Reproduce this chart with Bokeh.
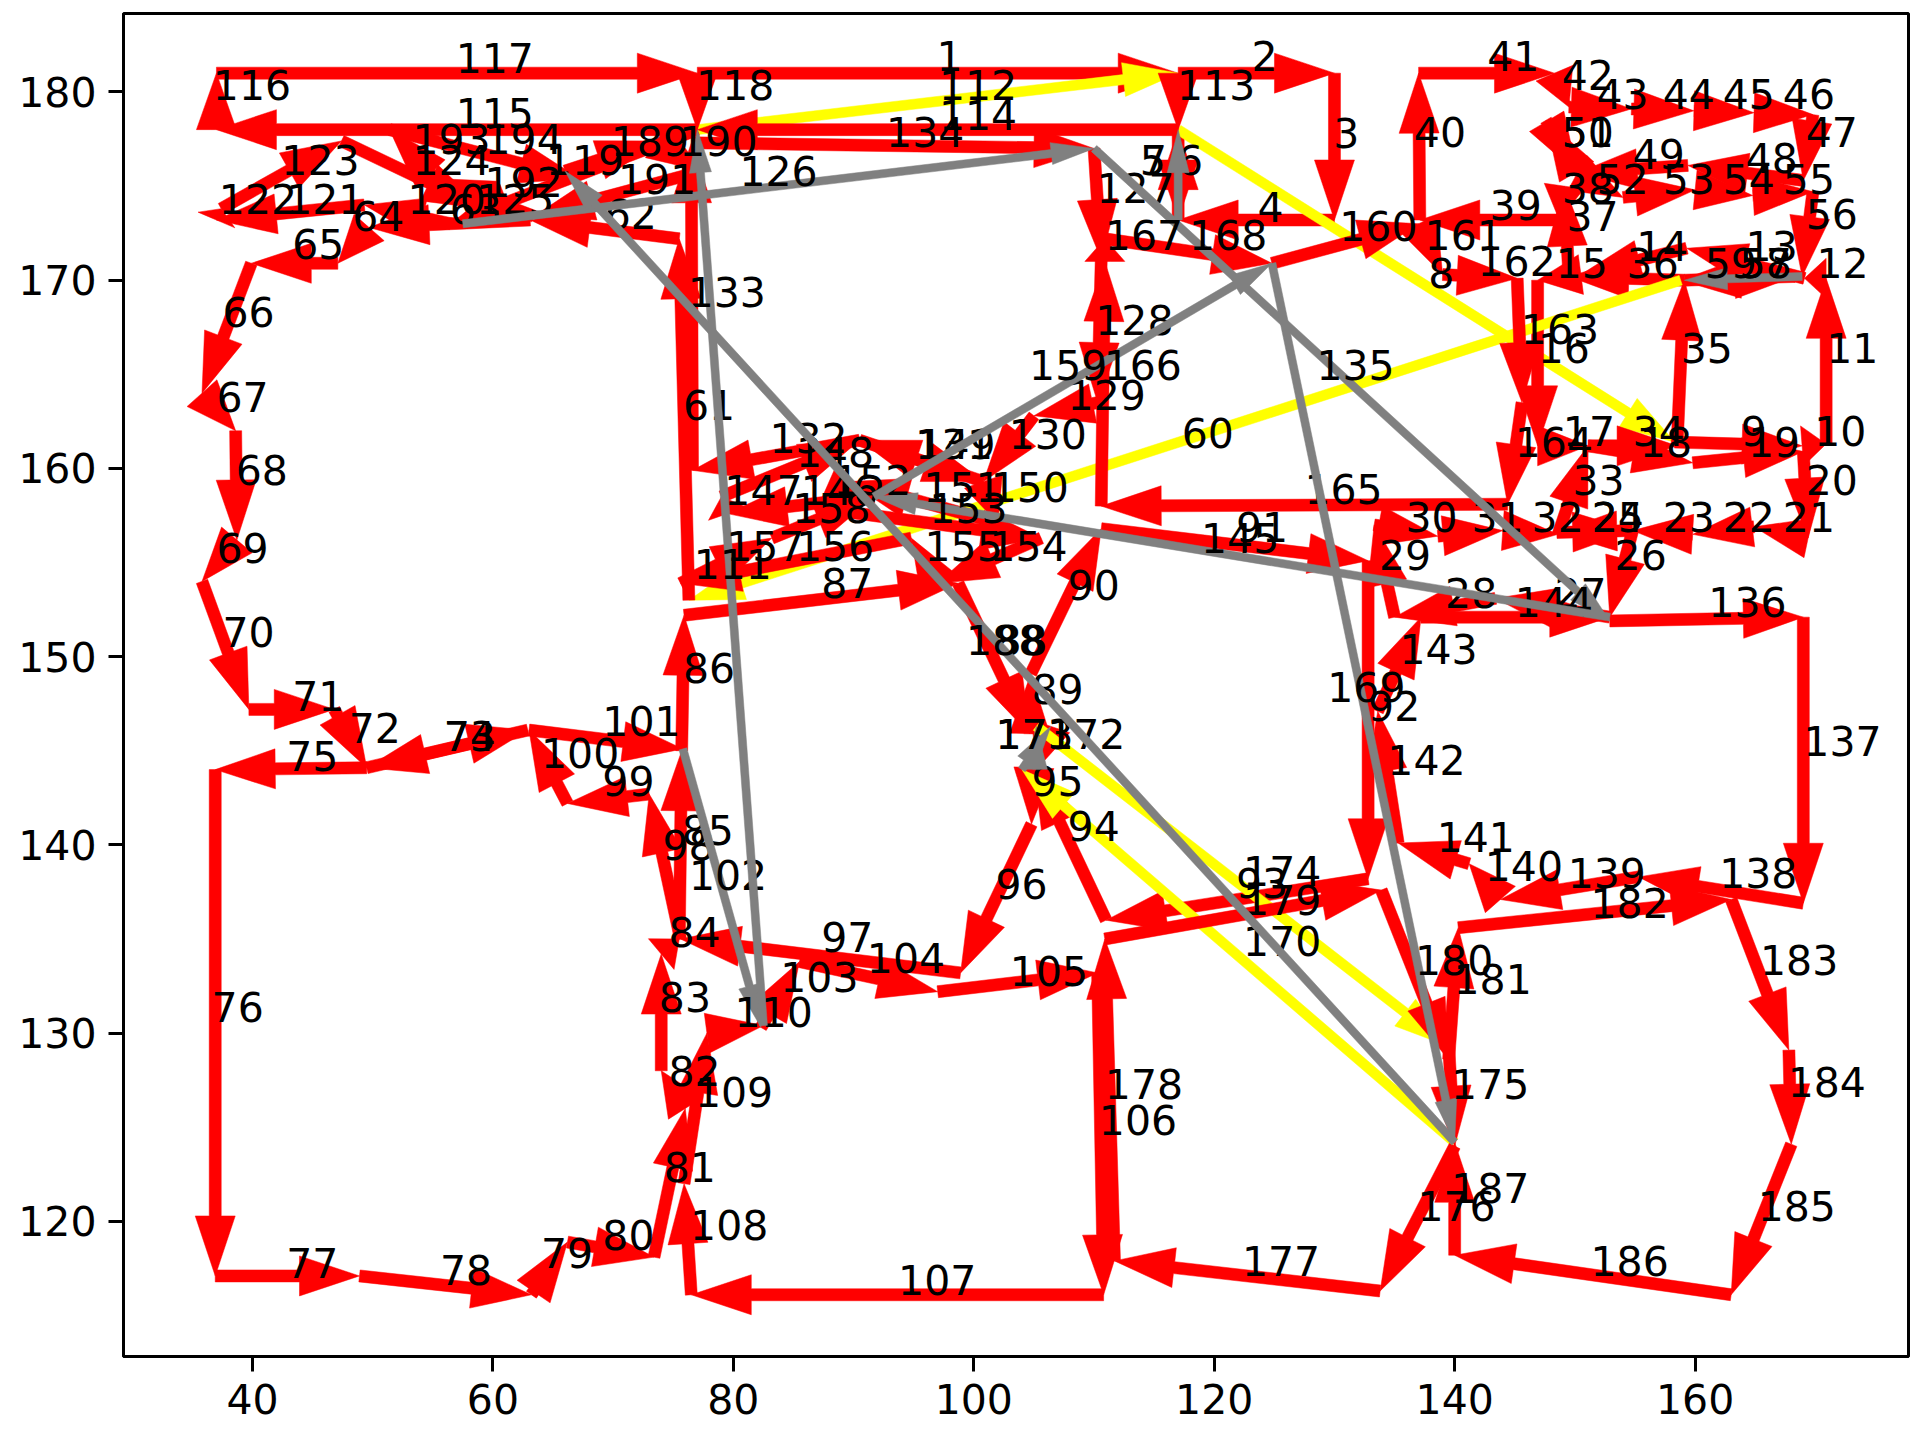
import numpy as np
from bokeh.plotting import figure
from bokeh.models import Range1d, FixedTicker
from bokeh.core.properties import value
from bokeh.embed import file_html
from bokeh.resources import INLINE

# ---- route nodes (step i goes from node i-1 to node i) ----
node_x = [77.0, 117.0, 130.0, 130.0, 117.0, 117.0, 117.0, 117.0, 158.3, 168.9,
          170.9, 170.9, 169.1, 159.3, 150.5, 146.9, 146.9, 151.1, 159.8, 169.0,
          169.4, 164.9, 159.8, 154.8, 148.5, 154.8, 152.9, 143.4, 135.0, 133.3,
          138.6, 144.0, 148.6, 151.1, 158.5, 159.1, 149.5, 149.1, 148.7, 137.1,
          137.0, 148.3, 149.5, 154.7, 159.9, 164.9, 169.8, 169.0, 159.4, 150.2,
          147.6, 150.2, 154.0, 160.0, 164.8, 169.8, 168.9, 159.1, 168.3, 158.8,
          76.3, 75.5, 63.1, 49.7, 47.1, 39.9, 35.8, 38.6, 38.7, 35.8,
          39.7, 46.8, 49.5, 62.9, 49.5, 36.9, 36.9, 48.9, 63.2, 66.2,
          73.4, 76.0, 74.0, 74.0, 75.5, 75.7, 75.9, 98.7, 104.65, 104.75,
          110.6, 132.8, 132.8, 111.0, 105.0, 104.8, 98.9, 75.6, 73.0, 66.2,
          63.0, 75.8, 82.3, 85.5, 97.0, 110.3, 110.8, 76.5, 75.9, 77.8,
          82.5, 77.0, 117.0, 117.0, 77.0, 37.0, 37.0, 77.0, 77.0, 56.5,
          49.3, 37.0, 37.4, 47.4, 59.2, 57.5, 110.0, 110.6, 110.3, 105.0,
          100.8, 90.5, 76.6, 76.5, 110.0, 152.9, 169.0, 169.0, 155.3, 143.8,
          141.2, 135.3, 133.6, 137.2, 152.9, 91.7, 79.5, 79.0, 90.5, 100.8,
          102.0, 89.6, 87.0, 105.6, 97.0, 94.8, 75.6, 83.2, 91.7, 124.8,
          137.0, 139.0, 145.2, 145.6, 144.4, 110.6, 110.9, 110.9, 124.8, 140.0,
          104.0, 106.4, 105.2, 105.2, 139.5, 140.0, 133.8, 111.7, 110.9, 133.9,
          139.5, 140.3, 163.0, 167.8, 168.0, 163.0, 140.0, 140.0, 66.0, 73.6,
          77.4, 63.4, 55.2, 51.4, 67.2]
node_y = [181.0, 181.0, 181.0, 173.2, 173.2, 178.0, 173.2, 178.0, 161.4, 161.2,
          161.3, 170.1, 170.1, 171.7, 170.3, 170.0, 161.2, 161.2, 160.3, 160.9,
          156.3, 156.9, 156.5, 156.7, 156.6, 156.7, 152.1, 153.1, 152.1, 157.0,
          156.4, 156.7, 156.5, 161.2, 161.2, 170.0, 170.2, 175.0, 173.2, 173.2,
          181.0, 181.0, 179.2, 179.1, 179.0, 178.9, 178.8, 175.3, 176.1, 175.7,
          178.5, 175.7, 174.4, 174.8, 174.5, 174.7, 170.2, 170.0, 170.2, 170.0,
          153.0, 172.2, 173.2, 172.8, 170.9, 170.9, 164.0, 162.0, 156.2, 154.0,
          147.2, 147.2, 144.1, 146.1, 144.1, 144.0, 117.1, 117.1, 116.1, 118.9,
          118.1, 126.0, 128.0, 134.2, 135.0, 145.0, 152.2, 153.9, 145.9, 149.1,
          156.8, 155.1, 138.2, 136.0, 144.1, 141.1, 133.2, 135.0, 142.7, 142.2,
          146.1, 145.1, 130.3, 133.8, 132.2, 133.2, 116.1, 116.1, 122.0, 130.0,
          130.4, 178.0, 181.0, 178.0, 178.0, 178.0, 181.0, 181.0, 178.0, 173.0,
          174.0, 173.2, 173.8, 177.4, 173.8, 173.0, 177.0, 171.1, 163.5, 162.8,
          159.3, 161.5, 159.9, 177.3, 177.0, 151.9, 152.1, 136.9, 138.3, 137.1,
          139.0, 140.1, 147.1, 152.1, 152.1, 158.5, 157.6, 158.5, 161.5, 159.3,
          157.1, 159.3, 157.9, 156.3, 153.9, 156.3, 153.9, 156.3, 158.5, 170.9,
          173.0, 170.3, 170.1, 163.5, 158.1, 158.0, 171.0, 172.2, 170.9, 124.2,
          144.0, 146.3, 144.0, 146.3, 129.3, 124.0, 116.3, 117.9, 135.0, 137.6,
          128.6, 135.6, 137.1, 129.1, 124.1, 116.1, 118.2, 124.2, 175.8, 177.4,
          175.8, 173.4, 175.4, 178.0, 175.4]

yellow_steps = [8, 60, 112, 170, 174]
grey_steps = [7, 57, 102, 111, 126, 135, 145, 159, 169, 171, 173, 188]

# ---- step labels (anchor = left / baseline) ----
label_x = [96.9, 123.1, 129.9, 123.6, 113.8, 116.9, 113.9, 137.8, 163.8, 169.9,
           170.9, 170.1, 164.2, 155.1, 148.4, 146.9, 149.0, 155.4, 164.4, 169.2,
           167.3, 162.3, 157.3, 151.4, 151.4, 153.3, 148.3, 139.2, 133.7, 135.9,
           141.4, 146.4, 149.8, 154.8, 158.8, 154.3, 149.3, 148.9, 142.9, 136.6,
           142.7, 148.9, 151.8, 157.3, 162.3, 167.3, 169.2, 164.2, 154.8, 148.9,
           148.9, 151.8, 157.3, 162.3, 167.3, 169.2, 163.7, 163.7, 160.8, 117.3,
           75.8, 69.3, 56.4, 48.3, 43.3, 37.5, 37.0, 38.6, 37.0, 37.5,
           43.3, 48.0, 55.9, 55.9, 42.8, 36.6, 42.8, 55.6, 64.0, 69.1,
           74.2, 74.6, 73.8, 74.6, 75.7, 75.8, 87.3, 101.8, 104.8, 107.8,
           121.8, 132.8, 121.8, 107.8, 104.8, 101.8, 87.3, 74.1, 69.1, 64.0,
           69.1, 76.3, 83.9, 91.1, 103.0, 110.4, 93.7, 76.4, 76.8, 80.1,
           76.7, 97.1, 116.9, 97.1, 56.9, 36.7, 56.9, 76.9, 64.4, 52.9,
           42.8, 37.2, 42.4, 53.3, 58.6, 80.5, 110.2, 110.1, 107.8, 102.9,
           95.1, 83.0, 76.2, 92.7, 128.5, 161.1, 169.0, 162.0, 149.4, 142.5,
           138.5, 134.4, 135.4, 145.0, 118.9, 85.6, 79.25, 85.2, 95.3, 101.4,
           95.8, 88.3, 96.3, 101.3, 95.9, 85.2, 79.4, 84.9, 104.6, 130.4,
           137.5, 141.9, 145.5, 145.0, 127.5, 110.8, 110.9, 117.9, 129.4, 122.4,
           101.8, 106.1, 101.8, 122.4, 139.7, 136.9, 122.3, 110.9, 122.4, 136.7,
           139.9, 151.3, 165.4, 167.7, 165.2, 151.3, 139.7, 99.35, 69.8, 75.5,
           70.4, 59.3, 53.3, 59.3]
label_y = [181.1, 181.1, 177.0, 173.1, 175.6, 175.6, 175.6, 169.6, 161.2, 161.2,
           165.6, 170.1, 171.0, 171.0, 170.1, 165.6, 161.2, 160.6, 160.6, 158.6,
           156.6, 156.6, 156.6, 156.6, 156.6, 154.6, 152.6, 152.6, 154.6, 156.6,
           156.6, 156.6, 158.6, 161.2, 165.6, 170.1, 172.6, 174.1, 173.2, 177.1,
           181.1, 180.1, 179.1, 179.1, 179.1, 179.1, 177.1, 175.7, 175.9, 177.1,
           177.1, 174.6, 174.6, 174.6, 174.6, 172.7, 170.1, 170.1, 170.1, 161.1,
           162.6, 172.7, 173.0, 172.6, 171.15, 167.5, 163.0, 159.1, 155.0, 150.5,
           147.1, 145.4, 145.0, 145.0, 143.9, 130.6, 117.0, 116.6, 117.5, 118.5,
           122.1, 127.2, 131.1, 134.6, 140.0, 148.6, 153.1, 150.1, 147.5, 153.0,
           156.1, 146.6, 137.2, 140.2, 142.6, 137.1, 134.3, 139.2, 142.6, 144.1,
           145.8, 137.6, 132.2, 133.2, 132.5, 124.6, 116.1, 119.0, 126.1, 130.3,
           154.1, 179.6, 179.6, 178.0, 178.1, 179.6, 181.0, 179.6, 175.6, 173.5,
           173.5, 173.5, 175.6, 175.6, 173.5, 175.0, 174.1, 167.1, 163.1, 161.05,
           160.5, 160.8, 168.6, 177.1, 164.7, 152.1, 144.7, 137.7, 137.7, 138.1,
           139.6, 143.7, 149.6, 152.1, 155.5, 158.05, 158.05, 160.1, 160.5, 158.2,
           158.2, 158.6, 157.1, 155.1, 155.1, 155.1, 155.1, 157.1, 164.7, 172.1,
           171.6, 170.2, 166.6, 160.6, 158.1, 164.7, 171.6, 171.6, 147.6, 134.1,
           145.1, 145.1, 145.1, 137.8, 126.5, 120.0, 117.1, 126.5, 136.3, 133.1,
           132.1, 136.1, 133.1, 126.6, 120.0, 117.1, 121.0, 150.1, 176.6, 176.6,
           174.6, 174.4, 176.7, 176.7]

x_ticks = [40, 60, 80, 100, 120, 140, 160]
y_ticks = [120, 130, 140, 150, 160, 170, 180]

# ---- frame / scales ----
X0, X1 = 29.27, 177.75
Y0, Y1 = 112.82, 184.17
FW, FH = 1785, 1343
kx = FW / (X1 - X0)
ky = FH / (Y1 - Y0)

# colour, shaft width, head width, head length (screen pixels)
STYLE = {
    "red": ("#ff0000", 12.0, 40.0, 60.0),
    "yellow": ("#ffff00", 10.0, 34.0, 55.0),
    "grey": ("#808080", 8.0, 22.0, 43.0),
}


def arrow_polygon(x0, y0, x1, y1, w, hw, hl):
    u = (x1 - x0) * kx
    v = (y1 - y0) * ky
    L = float(np.hypot(u, v))
    if L < 1e-6:
        return None
    dx, dy = u / L, v / L
    nx, ny = -dy, dx
    h = min(hl, L)
    bx, by = u - dx * h, v - dy * h
    pts = [(nx * w / 2, ny * w / 2),
           (bx + nx * w / 2, by + ny * w / 2),
           (bx + nx * hw / 2, by + ny * hw / 2),
           (u, v),
           (bx - nx * hw / 2, by - ny * hw / 2),
           (bx - nx * w / 2, by - ny * w / 2),
           (-nx * w / 2, -ny * w / 2)]
    return [x0 + a / kx for a, b in pts], [y0 + b / ky for a, b in pts]


p = figure(frame_width=FW, frame_height=FH,
           x_range=Range1d(X0, X1), y_range=Range1d(Y0, Y1),
           output_backend="svg", toolbar_location=None,
           min_border_left=123, min_border_right=12,
           min_border_top=13, min_border_bottom=84)
p.background_fill_color = "white"
p.border_fill_color = "white"
p.xgrid.visible = False
p.ygrid.visible = False
p.outline_line_color = "black"
p.outline_line_width = 3
p.outline_line_alpha = 1.0

for ax in (p.xaxis[0], p.yaxis[0]):
    ax.axis_line_width = 3
    ax.major_tick_line_width = 3
    ax.major_tick_out = 15
    ax.major_tick_in = 0
    ax.minor_tick_line_color = None
    ax.major_label_text_font = "DejaVu Sans"
    ax.major_label_text_font_size = "41px"
    ax.major_label_text_color = "black"
    ax.major_label_standoff = 12
p.xaxis.ticker = FixedTicker(ticks=x_ticks)
p.yaxis.ticker = FixedTicker(ticks=y_ticks)


def kind_of(i):
    if i in yellow_steps:
        return "yellow"
    if i in grey_steps:
        return "grey"
    return "red"


def add_arrow(i):
    col, w, hw, hl = STYLE[kind_of(i)]
    poly = arrow_polygon(node_x[i - 1], node_y[i - 1], node_x[i], node_y[i], w, hw, hl)
    if poly is not None:
        p.patch(poly[0], poly[1], fill_color=col, line_color=col, line_width=0.5)


steps = range(1, len(node_x))
# red and yellow moves form the bottom layer
for i in steps:
    if kind_of(i) != "grey":
        add_arrow(i)
# labels and grey transfers are layered in step order on top
for i in steps:
    if kind_of(i) == "grey":
        add_arrow(i)
    p.text(x=[label_x[i - 1]], y=[label_y[i - 1]], text=[str(i)],
           text_font=value("DejaVu Sans"), text_font_size=value("41px"),
           text_align="left", text_baseline="alphabetic", text_color="black",
           y_offset=-15)

open("out.html", "w").write(file_html(p, INLINE))
